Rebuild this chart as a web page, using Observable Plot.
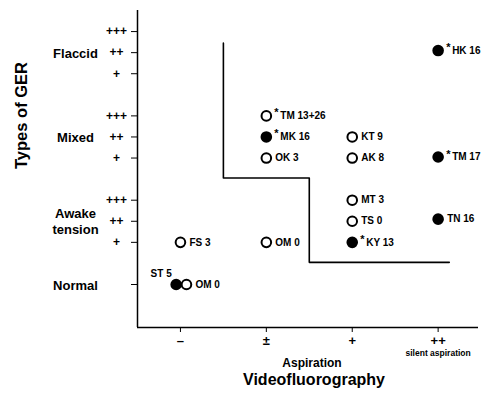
<!DOCTYPE html>
<html>
<head>
<meta charset="utf-8">
<script src="https://cdn.jsdelivr.net/npm/d3@7"></script>
<script src="https://cdn.jsdelivr.net/npm/@observablehq/plot@0.6"></script>
<style>
  html, body { margin: 0; padding: 0; background: #fff; }
  #chart svg { display: block; }
</style>
</head>
<body>
<div id="chart"></div>
<script>
// ---- data ----
const xDomain = [-0.5, 3.47];
const yDomain = [-2.04, 13.0];

const xLevels = [0, 1, 2, 3];
const xTickLabels = ["\u2013", "\u00b1", "+", "++"];

const yLevels = [0, 2, 3, 4, 6, 7, 8, 10, 11, 12];
const yTickLabels = ["", "+", "++", "+++", "+", "++", "+++", "+", "++", "+++"];

const groupNames = ["Flaccid", "Mixed", "Awake\ntension", "Normal"];
const groupY = [11, 7, 3, 0];

const names  = ["HK 16", "TM 13+26", "MK 16", "OK 3", "KT 9", "AK 8", "TM 17", "MT 3", "TS 0", "TN 16", "KY 13", "FS 3", "OM 0", "ST 5", "OM 0"];
const xs     = [3, 1, 1, 1, 2, 2, 3, 2, 2, 3, 2, 0, 1, -0.05, 0.07];
const ys     = [11.1, 8, 7, 6, 7, 6, 6.05, 4, 3, 3.1, 2, 2, 2, 0, 0];
const filled = [1, 0, 1, 0, 0, 0, 1, 0, 0, 1, 1, 0, 0, 1, 0];
const star   = [1, 1, 1, 0, 0, 0, 1, 0, 0, 0, 1, 0, 0, 0, 0];
const above  = [0, 0, 0, 0, 0, 0, 0, 0, 0, 0, 0, 0, 0, 1, 0];

// step boundary line
const stepX = [0.5, 0.5, 1.5, 1.5, 3.13];
const stepY = [11.45, 5.05, 5.05, 1.05, 1.05];

// ---- build ----
const pts = names.map((n, i) => ({name: n, x: xs[i], y: ys[i], filled: filled[i], star: star[i], above: above[i]}));
const step = stepX.map((x, i) => ({x, y: stepY[i]}));
const groups = groupNames.map((g, i) => ({g, y: groupY[i]}));
const font = "'Liberation Sans', Arial, Helvetica, sans-serif";

const chart = Plot.plot({
  width: 488,
  height: 394,
  marginLeft: 137,
  marginRight: 10,
  marginTop: 10,
  marginBottom: 67,
  style: {fontFamily: font, fontWeight: "bold", background: "white", color: "black"},
  x: {domain: xDomain},
  y: {domain: yDomain},
  marks: [
    Plot.ruleX([xDomain[0]], {stroke: "black", strokeWidth: 1.5}),
    Plot.ruleY([yDomain[0]], {stroke: "black", strokeWidth: 1.5}),
    Plot.axisY({
      ticks: yLevels,
      tickFormat: (d) => yTickLabels[yLevels.indexOf(d)],
      tickSize: 6,
      tickPadding: 15,
      textAnchor: "middle",
      fontSize: 12,
      label: null
    }),
    Plot.text(["Types of GER"], {frameAnchor: "left", dx: -116, rotate: -90, fontSize: 16.5, fontWeight: "bold"}),
    Plot.axisX({
      ticks: xLevels,
      tickFormat: (d) => xTickLabels[xLevels.indexOf(d)],
      tickSize: 5,
      tickPadding: 3,
      fontSize: 13,
      label: null
    }),
    Plot.text(["silent aspiration"], {x: [3], frameAnchor: "bottom", dy: 28, fontSize: 8.5, fontWeight: "bold"}),
    Plot.text(["Aspiration"], {frameAnchor: "bottom", dx: 4, dy: 39, fontSize: 12, fontWeight: "bold"}),
    Plot.text(["Videofluorography"], {frameAnchor: "bottom", dx: 6, dy: 57, fontSize: 16, fontWeight: "bold"}),
    Plot.text(groups, {y: "y", text: "g", frameAnchor: "left", dx: -62, textAnchor: "middle", fontSize: 13, fontWeight: "bold", lineHeight: 1.2}),
    Plot.line(step, {x: "x", y: "y", stroke: "black", strokeWidth: 1.6}),
    Plot.dot(pts, {x: "x", y: "y", r: 4.8, fill: (d) => d.filled ? "black" : "white", stroke: "black", strokeWidth: 2}),
    Plot.text(pts.filter(d => d.star), {x: "x", y: "y", text: () => "*", dx: 8, dy: -3, fontSize: 11, fontWeight: "bold", textAnchor: "start"}),
    Plot.text(pts.filter(d => !d.above && !d.star), {x: "x", y: "y", text: "name", dx: 9, textAnchor: "start", fontSize: 10, fontWeight: "bold"}),
    Plot.text(pts.filter(d => !d.above && d.star), {x: "x", y: "y", text: "name", dx: 14, textAnchor: "start", fontSize: 10, fontWeight: "bold"}),
    Plot.text(pts.filter(d => d.above), {x: "x", y: "y", text: "name", dx: -15, dy: -11, textAnchor: "middle", fontSize: 10, fontWeight: "bold"})
  ]
});
document.getElementById("chart").appendChild(chart);
</script>
</body>
</html>
